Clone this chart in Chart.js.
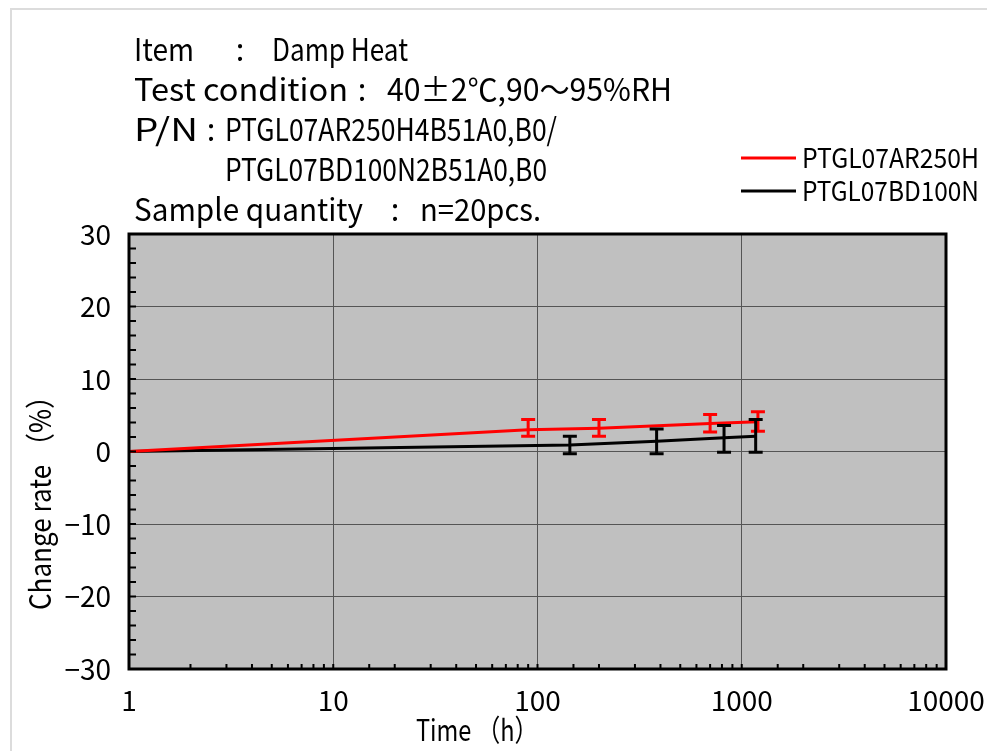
<!DOCTYPE html>
<html>
<head>
<meta charset="utf-8">
<script src="https://cdn.jsdelivr.net/npm/chart.js@4.4.1/dist/chart.umd.min.js"></script>
<style>
html, body { margin: 0; padding: 0; background: #fff; }
#wrap { position: relative; width: 987px; height: 751px; overflow: hidden; }
#frame { position: absolute; left: 10px; top: 8px; width: 1000px; height: 800px;
         border-left: 2px solid #dcdcdc; border-top: 2px solid #dcdcdc; }
canvas { position: absolute; left: 0; top: 0; }
</style>
</head>
<body>
<div id="wrap"><div id="frame"></div><canvas id="chart" width="987" height="751"></canvas></div>
<script>
// values
const hoursAR = [1, 90, 200, 700, 1200];
const rateAR = [0, 3.0, 3.2, 3.85, 4.1];
const lowAR = [null, 2.1, 2.1, 2.7, 2.8];
const highAR = [null, 4.4, 4.4, 5.1, 5.5];

const hoursBD = [1, 144, 383, 819, 1170];
const rateBD = [0, 0.9, 1.4, 1.9, 2.1];
const lowBD = [null, -0.3, -0.3, -0.1, -0.1];
const highBD = [null, 2.1, 3.1, 3.6, 4.4];

const seriesNames = ["PTGL07AR250H", "PTGL07BD100N"];
const seriesColors = ["#ff0000", "#000000"];

const xLabels = [1, 10, 100, 1000, 10000];
const yLabels = [-30, -20, -10, 0, 10, 20, 30];

const FONT = "'Noto Sans CJK JP', 'Noto Sans', sans-serif";

const toPoints = (xs, ys) => xs.map((x, i) => ({ x: x, y: ys[i] }));

// draw text squeezed/stretched to a given width (the original uses a narrow gothic face)
function fitText(ctx, text, x, y, w) {
    const m = ctx.measureText(text).width;
    ctx.save();
    ctx.translate(x, y);
    ctx.scale(w / m, 1);
    ctx.fillText(text, 0, 0);
    ctx.restore();
}

const errorBars = {
    id: "errorBars",
    afterDatasetsDraw(chart) {
        const ctx = chart.ctx;
        const xs = chart.scales.x, ys = chart.scales.y;
        const sets = [[hoursAR, lowAR, highAR], [hoursBD, lowBD, highBD]];
        ctx.save();
        sets.forEach((s, i) => {
            ctx.strokeStyle = seriesColors[i];
            ctx.lineWidth = 3;
            s[0].forEach((h, j) => {
                if (s[1][j] === null) return;
                const px = xs.getPixelForValue(h);
                const y1 = ys.getPixelForValue(s[1][j]);
                const y2 = ys.getPixelForValue(s[2][j]);
                ctx.beginPath();
                ctx.moveTo(px, y1); ctx.lineTo(px, y2);
                ctx.moveTo(px - 7, y1); ctx.lineTo(px + 7, y1);
                ctx.moveTo(px - 7, y2); ctx.lineTo(px + 7, y2);
                ctx.stroke();
            });
        });
        ctx.restore();
    }
};

const decor = {
    id: "decor",
    beforeDraw(chart) {
        const { ctx, chartArea: a } = chart;
        ctx.save();
        ctx.fillStyle = "#c0c0c0";
        ctx.fillRect(a.left, a.top, a.right - a.left, a.bottom - a.top);
        ctx.restore();
    },
    afterDraw(chart) {
        const { ctx, chartArea: a } = chart;
        const xs = chart.scales.x, ys = chart.scales.y;
        ctx.save();

        // inward tick marks
        ctx.strokeStyle = "#000";
        ctx.lineWidth = 2;
        ctx.beginPath();
        ys.ticks.forEach(t => {
            const py = ys.getPixelForValue(t.value);
            ctx.moveTo(a.left, py); ctx.lineTo(a.left + 7, py);
        });
        xs.ticks.forEach(t => {
            const px = xs.getPixelForValue(t.value);
            ctx.moveTo(px, a.bottom); ctx.lineTo(px, a.bottom - 5);
        });
        ctx.stroke();

        // plot frame
        ctx.lineWidth = 3;
        ctx.strokeRect(a.left, a.top, a.right - a.left, a.bottom - a.top);

        // header block
        ctx.fillStyle = "#000";
        ctx.textBaseline = "middle";
        ctx.font = "31px " + FONT;
        ctx.textAlign = "left";
        fitText(ctx, "Item", 134, 49, 60);
        fitText(ctx, "Damp Heat", 272, 49, 136);
        fitText(ctx, "Test condition", 134, 89, 214);
        fitText(ctx, "40±2℃,90～95%RH", 387, 89, 285);
        fitText(ctx, "P/N", 134, 129, 64);
        fitText(ctx, "PTGL07AR250H4B51A0,B0/", 225, 129, 332);
        fitText(ctx, "PTGL07BD100N2B51A0,B0", 225, 169, 322);
        fitText(ctx, "Sample quantity", 134, 209, 229);
        fitText(ctx, "n=20pcs.", 420, 209, 121);
        ctx.textAlign = "center";
        ctx.fillText(":", 240, 49);
        ctx.fillText(":", 362, 89);
        ctx.fillText(":", 211, 129);
        ctx.fillText(":", 395, 209);

        // legend
        ctx.textAlign = "left";
        ctx.font = "27px " + FONT;
        seriesNames.forEach((n, i) => {
            const py = 158 + i * 33;
            ctx.strokeStyle = seriesColors[i];
            ctx.lineWidth = 3;
            ctx.beginPath();
            ctx.moveTo(741, py); ctx.lineTo(796, py);
            ctx.stroke();
            fitText(ctx, n, 802, py, 177);
        });

        // axis titles
        ctx.font = "30px " + FONT;
        ctx.textAlign = "left";
        fitText(ctx, "Time （h）", 416, 730, 122);
        ctx.save();
        ctx.translate(40, 610);
        ctx.rotate(-Math.PI / 2);
        fitText(ctx, "Change rate （%）", 0, 0, 227);
        ctx.restore();

        ctx.restore();
    }
};

const tickFont = { family: FONT, size: 28 };

new Chart(document.getElementById("chart"), {
    type: "line",
    data: {
        datasets: [
            {
                label: seriesNames[0],
                data: toPoints(hoursAR, rateAR),
                borderColor: seriesColors[0],
                borderWidth: 3,
                pointRadius: 0,
                tension: 0
            },
            {
                label: seriesNames[1],
                data: toPoints(hoursBD, rateBD),
                borderColor: seriesColors[1],
                borderWidth: 3,
                pointRadius: 0,
                tension: 0
            }
        ]
    },
    options: {
        responsive: false,
        animation: false,
        devicePixelRatio: 1,
        layout: { padding: { top: 234, right: 41, left: 0, bottom: 0 } },
        plugins: { legend: { display: false }, tooltip: { enabled: false } },
        scales: {
            x: {
                type: "logarithmic",
                min: 1,
                max: 10000,
                border: { display: false },
                grid: {
                    drawTicks: false,
                    lineWidth: 1,
                    color: c => {
                        const v = c.tick ? c.tick.value : 0;
                        return xLabels.slice(1, -1).includes(v) ? "#555" : "rgba(0,0,0,0)";
                    }
                },
                ticks: {
                    autoSkip: false,
                    maxRotation: 0,
                    padding: 15,
                    color: "#000",
                    font: tickFont,
                    callback: v => xLabels.includes(v) ? String(v) : ""
                },
                afterFit: s => { s.height = 82; s.paddingLeft = 0; s.paddingRight = 0; }
            },
            y: {
                min: -30,
                max: 30,
                border: { display: false },
                grid: {
                    drawTicks: false,
                    lineWidth: 1,
                    color: c => {
                        const v = c.tick ? c.tick.value : 0;
                        return yLabels.slice(1, -1).includes(v) ? "#555" : "rgba(0,0,0,0)";
                    }
                },
                ticks: {
                    stepSize: 2,
                    autoSkip: false,
                    padding: 18,
                    color: "#000",
                    font: tickFont,
                    callback: v => yLabels.includes(v) ? (v < 0 ? "−" + Math.abs(v) : String(v)) : ""
                },
                afterFit: s => { s.width = 129; s.paddingTop = 0; s.paddingBottom = 0; }
            }
        }
    },
    plugins: [decor, errorBars]
});
</script>
</body>
</html>
